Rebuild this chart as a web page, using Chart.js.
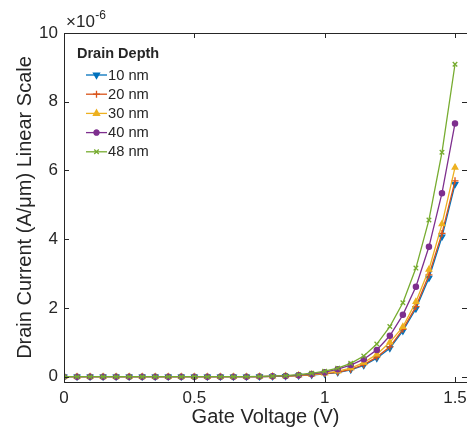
<!DOCTYPE html>
<html><head><meta charset="utf-8">
<script src="https://cdn.jsdelivr.net/npm/chart.js@4"></script>
<style>html,body{margin:0;padding:0;background:#fff;overflow:hidden}canvas{display:block}</style>
</head><body>
<canvas id="c" width="467" height="433" style="width:467px;height:433px"></canvas>
<script>
// Data (drain current in units of 1e-6 A/um)
const gateVoltage = [0,0.05,0.1,0.15,0.2,0.25,0.3,0.35,0.4,0.45,0.5,0.55,0.6,0.65,0.7,0.75,0.8,0.85,0.9,0.95,1.0,1.05,1.1,1.15,1.2,1.25,1.3,1.35,1.4,1.45,1.5];
const seriesNames = ['10 nm','20 nm','30 nm','40 nm','48 nm'];
const depth10 = [0,0,0,0,0,0,0,0,0,0,0,0,0,0,0,0.003,0.008,0.015,0.03,0.05,0.08,0.12,0.2,0.33,0.54,0.83,1.33,1.98,2.87,4.07,5.6];
const depth20 = [0,0,0,0,0,0,0,0,0,0,0,0,0,0,0,0.003,0.009,0.017,0.033,0.055,0.09,0.13,0.21,0.35,0.57,0.87,1.38,2.04,2.96,4.17,5.7];
const depth30 = [0,0,0,0,0,0,0,0,0,0,0,0,0,0,0,0.004,0.01,0.02,0.04,0.065,0.1,0.16,0.25,0.41,0.65,1.0,1.45,2.18,3.12,4.44,6.09];
const depth40 = [0,0,0,0,0,0,0,0,0,0,0,0,0,0,0.002,0.005,0.012,0.024,0.045,0.08,0.13,0.22,0.34,0.51,0.78,1.19,1.8,2.62,3.78,5.34,7.37];
const depth48 = [0,0,0,0,0,0,0,0,0,0,0,0,0,0,0.003,0.007,0.015,0.03,0.06,0.1,0.16,0.25,0.39,0.6,0.95,1.46,2.15,3.16,4.56,6.53,9.09];
const xTicks = [0,0.5,1,1.5];
const yTicks = [0,2,4,6,8,10];
const legendTitle = 'Drain Depth';
const exponentBase = '\u00d710';
const exponentPower = '-6';

const colors = ['#0072BD','#D95319','#EDB120','#7E2F8E','#77AC30'];
const styles = [
  {pointStyle:'triangle', rotation:180, radius:3.2},
  {pointStyle:'cross', rotation:0, radius:3.5},
  {pointStyle:'triangle', rotation:0, radius:3.2},
  {pointStyle:'circle', rotation:0, radius:2.6},
  {pointStyle:'crossRot', rotation:0, radius:3.2}
];
const allSeries = [depth10, depth20, depth30, depth40, depth48];
const AX = '#262626';
const FONT = "'Liberation Sans', Arial, Helvetica, sans-serif";

const datasets = allSeries.map((s,i)=>({
  label: seriesNames[i],
  data: gateVoltage.map((x,j)=>({x:x, y:s[j]})),
  borderColor: colors[i],
  backgroundColor: colors[i],
  borderWidth: 1.3,
  pointStyle: styles[i].pointStyle,
  pointRotation: styles[i].rotation,
  pointRadius: styles[i].radius,
  pointBorderWidth: 1.3,
  pointHoverRadius: styles[i].radius,
  tension: 0,
  order: allSeries.length - i
}));

function drawMarker(ctx, st, color, x, y){
  ctx.save();
  ctx.strokeStyle = color; ctx.fillStyle = color; ctx.lineWidth = 1.3;
  const r = st.radius;
  ctx.translate(x,y);
  ctx.rotate(st.rotation*Math.PI/180);
  ctx.beginPath();
  if (st.pointStyle==='triangle'){
    ctx.moveTo(0,-r*1.1); ctx.lineTo(r*0.95, r*0.6); ctx.lineTo(-r*0.95, r*0.6); ctx.closePath();
    ctx.fill(); ctx.stroke();
  } else if (st.pointStyle==='cross'){
    ctx.moveTo(-r,0); ctx.lineTo(r,0); ctx.moveTo(0,-r); ctx.lineTo(0,r); ctx.stroke();
  } else if (st.pointStyle==='crossRot'){
    const d = r*0.707;
    ctx.moveTo(-d,-d); ctx.lineTo(d,d); ctx.moveTo(d,-d); ctx.lineTo(-d,d); ctx.stroke();
  } else {
    ctx.arc(0,0,r,0,Math.PI*2); ctx.fill(); ctx.stroke();
  }
  ctx.restore();
}

const framePlugin = {
  id:'frame',
  afterDatasetsDraw(chart){
    const ctx = chart.ctx, a = chart.chartArea;
    const xs = chart.scales.x, ys = chart.scales.y;
    ctx.save();
    ctx.strokeStyle = AX; ctx.lineWidth = 1;
    ctx.strokeRect(Math.round(a.left)+0.5, Math.round(a.top)+0.5, Math.round(a.right)-Math.round(a.left), Math.round(a.bottom)-Math.round(a.top));
    ctx.beginPath();
    const tl = 5;
    xTicks.forEach(v=>{
      const px = Math.round(xs.getPixelForValue(v))+0.5;
      ctx.moveTo(px, a.bottom); ctx.lineTo(px, a.bottom-tl);
      ctx.moveTo(px, a.top); ctx.lineTo(px, a.top+tl);
    });
    yTicks.forEach(v=>{
      const py = Math.round(ys.getPixelForValue(v))+0.5;
      ctx.moveTo(a.left, py); ctx.lineTo(a.left+tl, py);
      ctx.moveTo(a.right, py); ctx.lineTo(a.right-tl, py);
    });
    ctx.stroke();
    // exponent label
    ctx.fillStyle = AX;
    ctx.textBaseline = 'alphabetic'; ctx.textAlign = 'left';
    ctx.font = '17px ' + FONT;
    ctx.fillText(exponentBase, 66, 27);
    const w = ctx.measureText(exponentBase).width;
    ctx.font = '12px ' + FONT;
    ctx.fillText(exponentPower, 66 + w + 0.5, 19);
    // legend
    ctx.font = 'bold 14.5px ' + FONT;
    ctx.fillText(legendTitle, 77, 58);
    ctx.font = '14.7px ' + FONT;
    for (let i=0;i<seriesNames.length;i++){
      const ly = 75 + i*19.2;
      ctx.strokeStyle = colors[i]; ctx.lineWidth = 1.3;
      ctx.beginPath(); ctx.moveTo(86, ly); ctx.lineTo(107, ly); ctx.stroke();
      drawMarker(ctx, styles[i], colors[i], 96.5, ly);
      ctx.fillStyle = AX;
      ctx.textBaseline = 'middle';
      ctx.fillText(seriesNames[i], 108, ly+0.5);
    }
    ctx.restore();
  }
};

new Chart(document.getElementById('c'), {
  type:'line',
  data:{datasets},
  options:{
    responsive:false, animation:false, devicePixelRatio:1,
    layout:{autoPadding:false, padding:{top:33,right:0,bottom:0,left:0}},
    plugins:{legend:{display:false}, tooltip:{enabled:false}},
    scales:{
      x:{
        type:'linear', min:0, max:1.546,
        afterBuildTicks(s){ s.ticks = xTicks.map(v=>({value:v})); },
        afterFit(s){ s.height = 51; s.paddingRight = 0; s.paddingLeft = 0; },
        grid:{display:false, drawTicks:false}, border:{display:false},
        ticks:{color:AX, font:{family:FONT, size:17}, padding:6, maxRotation:0, autoSkip:false,
          callback:(v)=>String(v)},
        title:{display:true, text:'Gate Voltage (V)', color:AX, font:{family:FONT, size:20}, padding:{top:0,bottom:4}}
      },
      y:{
        type:'linear', min:-0.154, max:10,
        afterBuildTicks(s){ s.ticks = yTicks.map(v=>({value:v})); },
        afterFit(s){ s.width = 64; s.paddingTop = 0; s.paddingBottom = 0; },
        grid:{display:false, drawTicks:false}, border:{display:false},
        ticks:{color:AX, font:{family:FONT, size:17}, padding:6, autoSkip:false,
          callback:(v)=>String(v)},
        title:{display:true, text:'Drain Current (A/\u03bcm) Linear Scale', color:AX, font:{family:FONT, size:20}, padding:{top:13,bottom:0}}
      }
    }
  },
  plugins:[framePlugin]
});
</script>
</body></html>
